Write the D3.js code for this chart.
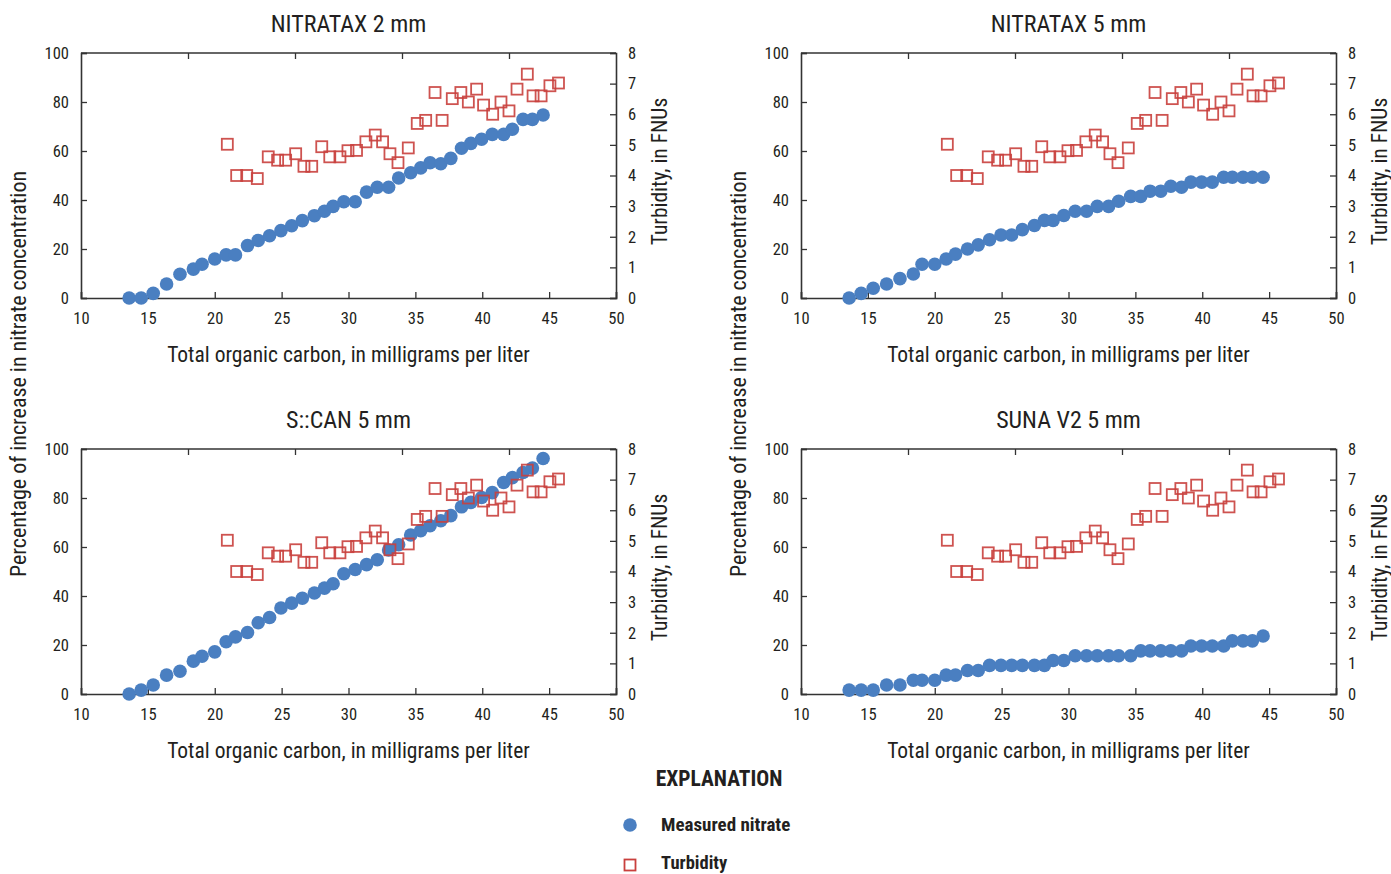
<!DOCTYPE html>
<html>
<head>
<meta charset="utf-8">
<script src="https://cdn.jsdelivr.net/npm/d3@7"></script>
<style>
    body { margin: 0; background: #fff; }
    svg text { font-family: "Liberation Sans Narrow", "Roboto Condensed", "DejaVu Sans Condensed", sans-serif; fill: #231f20; }
</style>
</head>
<body>
<svg id="chart" width="1391" height="874"></svg>
<script>
// total organic carbon for each nitrate sample (mg/L)
let tocNitrate = [13.6, 14.5, 15.4, 16.4, 17.4, 18.4, 19.05, 20.0, 20.85, 21.55, 22.45, 23.25, 24.1, 24.95,
    25.75, 26.55, 27.45, 28.2, 28.85, 29.65, 30.5, 31.35, 32.15, 33.0, 33.75, 34.65, 35.4, 36.1, 36.9,
    37.65, 38.45, 39.15, 39.95, 40.75, 41.6, 42.25, 43.05, 43.75, 44.55];

// percentage of increase in nitrate concentration, per sensor
let nitratax2 = [0, 0, 1.9, 5.7, 9.7, 11.8, 13.8, 15.9, 17.6, 17.6, 21.4, 23.5, 25.4, 27.5, 29.5, 31.6,
    33.6, 35.4, 37.4, 39.3, 39.3, 43.2, 45.2, 45.2, 49.0, 51.1, 53.1, 55.2, 54.8, 57.0, 61.1, 63.1, 64.8,
    66.8, 66.8, 68.9, 72.9, 72.9, 74.7];
let nitratax5 = [0, 1.9, 4.0, 5.7, 7.9, 9.8, 13.8, 13.8, 15.9, 17.9, 20.0, 21.7, 23.8, 25.7, 25.7, 27.9,
    29.6, 31.7, 31.7, 33.7, 35.4, 35.4, 37.4, 37.4, 39.5, 41.5, 41.5, 43.6, 43.6, 45.6, 45.2, 47.3, 47.3,
    47.3, 49.3, 49.3, 49.3, 49.3, 49.3];
let scan5 = [0, 1.6, 3.7, 7.7, 9.3, 13.4, 15.4, 17.2, 21.3, 23.3, 25.1, 29.1, 31.2, 35.1, 37.1, 39.1,
    41.2, 43.2, 45.0, 49.1, 50.8, 52.8, 54.8, 58.8, 60.9, 64.9, 66.7, 68.7, 70.7, 72.8, 76.4, 78.2, 80.2,
    82.2, 86.3, 88.3, 90.4, 92.2, 96.1];
let sunaV2 = [1.6, 1.6, 1.6, 3.7, 3.7, 5.6, 5.6, 5.6, 7.7, 7.7, 9.6, 9.6, 11.7, 11.7, 11.7, 11.7, 11.7,
    11.7, 13.7, 13.7, 15.6, 15.6, 15.6, 15.6, 15.6, 15.6, 17.6, 17.6, 17.6, 17.6, 17.6, 19.6, 19.6, 19.6,
    19.6, 21.7, 21.7, 21.7, 23.7];

// turbidity samples (same in all four panels)
let tocTurbidity = [20.94, 21.64, 22.39, 23.18, 24.0, 24.7, 25.3, 26.05, 26.67, 27.25, 28.0, 28.6, 29.36,
    29.96, 30.6, 31.3, 32.0, 32.55, 33.1, 33.7, 34.47, 35.14, 35.77, 36.47, 37.0, 37.76, 38.4, 38.96,
    39.58, 40.1, 40.78, 41.4, 42.0, 42.6, 43.37, 43.8, 44.4, 45.06, 45.7];
let turbidity = [5.02, 4.0, 4.0, 3.9, 4.61, 4.5, 4.5, 4.71, 4.3, 4.3, 4.94, 4.61, 4.61, 4.81, 4.82, 5.1,
    5.32, 5.1, 4.71, 4.42, 4.9, 5.7, 5.8, 6.71, 5.8, 6.51, 6.71, 6.4, 6.82, 6.3, 6.0, 6.4, 6.11, 6.82,
    7.31, 6.6, 6.6, 6.93, 7.02];

let panelTitles = ["NITRATAX 2 mm", "NITRATAX 5 mm", "S::CAN 5 mm", "SUNA V2 5 mm"];
let panelValues = [nitratax2, nitratax5, scan5, sunaV2];

let xTicks = [10, 15, 20, 25, 30, 35, 40, 45, 50];
let yTicks = [0, 20, 40, 60, 80, 100];
let y2Ticks = [0, 1, 2, 3, 4, 5, 6, 7, 8];

let blue = "#4a7fc1";
let red = "#c9403d";
let axisColor = "#333";

let svg = d3.select("#chart");

// panel frames: left, top, width, height
let plotW = 535, plotH = 245;
let origins = [[81, 53], [801, 53], [81, 449], [801, 449]];

function drawPanel(idx) {
    let ox = origins[idx][0], oy = origins[idx][1];
    let g = svg.append("g").attr("transform", "translate(" + ox + "," + oy + ")");

    let x = d3.scaleLinear().domain([10, 50]).range([0, plotW]);
    let y = d3.scaleLinear().domain([0, 100]).range([plotH, 0]);
    let y2 = d3.scaleLinear().domain([0, 8]).range([plotH, 0]);

    // ticks point inward on all sides
    let bottom = g.append("g")
        .attr("transform", "translate(0," + plotH + ")")
        .call(d3.axisBottom(x).tickValues(xTicks).tickSize(-6).tickPadding(14).tickFormat(d3.format("d")));
    let left = g.append("g")
        .call(d3.axisLeft(y).tickValues(yTicks).tickSize(-6).tickPadding(12));
    let right = g.append("g")
        .attr("transform", "translate(" + plotW + ",0)")
        .call(d3.axisRight(y2).tickValues(y2Ticks).tickSize(-6).tickPadding(12));
    // top axis has only fifth ticks, no labels
    let top = g.append("g")
        .call(d3.axisTop(d3.scaleLinear().domain([0, 5]).range([0, plotW]))
            .tickValues([1, 2, 3, 4]).tickSize(-6).tickFormat(""));

    [bottom, left, right, top].forEach(a => {
        a.selectAll("path").attr("stroke", axisColor).attr("stroke-width", 1.6);
        a.selectAll("line").attr("stroke", axisColor).attr("stroke-width", 1.3);
        a.selectAll("text").style("font-size", "16.5px").attr("fill", "#231f20");
    });
    top.select("path").remove();
    g.append("line")
        .attr("x1", 0).attr("x2", plotW).attr("y1", 0).attr("y2", 0)
        .attr("stroke", axisColor).attr("stroke-width", 1.6);

    let vals = panelValues[idx];
    g.append("g").selectAll("circle")
        .data(tocNitrate.map((t, i) => [t, vals[i]]))
        .join("circle")
        .attr("cx", d => x(d[0]))
        .attr("cy", d => y(d[1]))
        .attr("r", 6.8)
        .attr("fill", blue);

    let s = 11;
    g.append("g").selectAll("rect")
        .data(tocTurbidity.map((t, i) => [t, turbidity[i]]))
        .join("rect")
        .attr("x", d => x(d[0]) - s / 2)
        .attr("y", d => y2(d[1]) - s / 2)
        .attr("width", s)
        .attr("height", s)
        .attr("fill", "none")
        .attr("stroke", red)
        .attr("stroke-opacity", 0.9)
        .attr("stroke-width", 1.8);

    // titles
    g.append("text")
        .attr("x", plotW / 2).attr("y", -21)
        .attr("text-anchor", "middle")
        .style("font-size", "24px")
        .text(panelTitles[idx]);
    g.append("text")
        .attr("x", plotW / 2).attr("y", plotH + 64)
        .attr("text-anchor", "middle")
        .style("font-size", "21.5px")
        .text("Total organic carbon, in milligrams per liter");
    g.append("text")
        .attr("transform", "translate(" + (plotW + 51) + "," + (plotH / 2 - 4) + ") rotate(-90)")
        .attr("text-anchor", "middle")
        .style("font-size", "21.5px")
        .text("Turbidity, in FNUs");
}

for (var i = 0; i < 4; i++) {
    drawPanel(i);
}

// shared left axis titles
[26, 746].forEach(lx => {
    svg.append("text")
        .attr("transform", "translate(" + lx + ",374) rotate(-90)")
        .attr("text-anchor", "middle")
        .style("font-size", "22px")
        .text("Percentage of increase in nitrate concentration");
});

// explanation / legend
let legend = svg.append("g");
legend.append("text")
    .attr("x", 719).attr("y", 786)
    .attr("text-anchor", "middle")
    .style("font-size", "21.5px").style("font-weight", "bold")
    .text("EXPLANATION");
legend.append("circle")
    .attr("cx", 630).attr("cy", 825).attr("r", 6.8).attr("fill", blue);
legend.append("text")
    .attr("x", 661).attr("y", 831)
    .style("font-size", "19px").style("font-weight", "bold")
    .text("Measured nitrate");
legend.append("rect")
    .attr("x", 624.5).attr("y", 859.5).attr("width", 11).attr("height", 11)
    .attr("fill", "none").attr("stroke", red).attr("stroke-width", 1.8);
legend.append("text")
    .attr("x", 661).attr("y", 869)
    .style("font-size", "18.5px").style("font-weight", "bold")
    .text("Turbidity");
</script>
</body>
</html>
